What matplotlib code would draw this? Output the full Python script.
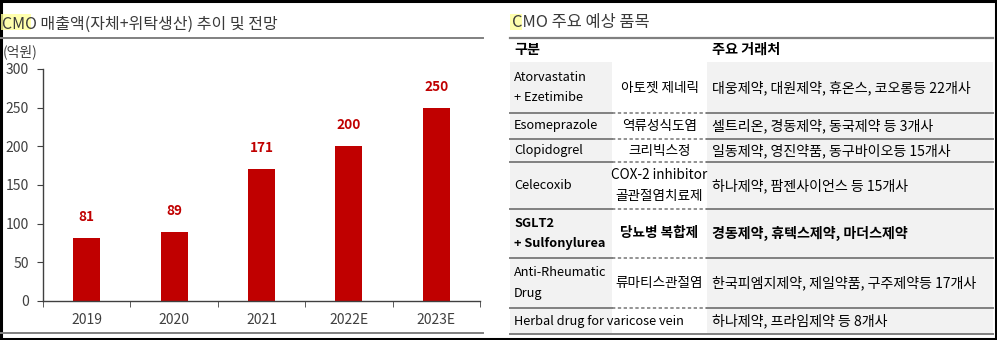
import matplotlib
matplotlib.use('Agg')
import matplotlib.pyplot as plt
from matplotlib.patches import Rectangle

plt.rcParams['font.family'] = ['Noto Sans CJK KR', 'DejaVu Sans']

# chart data
years = ['2019', '2020', '2021', '2022E', '2023E']
sales = [81, 89, 171, 200, 250]
yticks = [0, 50, 100, 150, 200, 250, 300]

# table data
header = ['구분', '주요 거래처']
drugs = ['Atorvastatin\n+ Ezetimibe', 'Esomeprazole', 'Clopidogrel', 'Celecoxib',
         'SGLT2\n+ Sulfonylurea', 'Anti-Rheumatic\nDrug', 'Herbal drug for varicose vein']
indications = ['아토젯 제네릭', '역류성식도염', '크리빅스정', 'COX-2 inhibitor\n골관절염치료제',
               '당뇨병 복합제', '류마티스관절염', '']
clients = ['대웅제약, 대원제약, 휴온스, 코오롱등 22개사',
           '셀트리온, 경동제약, 동국제약 등 3개사',
           '일동제약, 영진약품, 동구바이오등 15개사',
           '하나제약, 팜젠사이언스 등 15개사',
           '경동제약, 휴텍스제약, 마더스제약',
           '한국피엠지제약, 제일약품, 구주제약등 17개사',
           '하나제약, 프라임제약 등 8개사']
bold_rows = [4]

W, H = 997, 340
red = '#c00000'
grey_txt = '#404040'
fill = '#f2f2f2'
line_c = '#808080'

fig = plt.figure(figsize=(W / 100, H / 100), dpi=100)

# background canvas in pixel coordinates
bg = fig.add_axes([0, 0, 1, 1], zorder=0)
bg.set_xlim(0, W)
bg.set_ylim(H, 0)
bg.axis('off')

# outer frame
bg.add_patch(Rectangle((0.5, 0.5), W - 2, H - 2, fill=False, ec='black', lw=2.2))

# ---- left panel ----
bg.add_patch(Rectangle((1, 14), 30, 16, color='#ffff99', lw=0, alpha=0.8))
bg.text(2, 24, 'CMO 매출액(자체+위탁생산) 추이 및 전망', fontsize=11.5, fontweight='medium',
        color='#3a3a3a', va='center', ha='left')
bg.plot([0, 483], [38, 38], color=line_c, lw=1.4)
bg.plot([0, 483], [333, 333], color=line_c, lw=1.4)
bg.text(3, 52, '(억원)', fontsize=10, color=grey_txt, va='center', ha='left')

ax = fig.add_axes([43 / W, 1 - 301 / H, (480 - 43) / W, (301 - 69) / H], zorder=2)
ax.patch.set_alpha(0)
x = list(range(len(years)))
bars = ax.bar(x, sales, width=0.31, color=red)
for b, v in zip(bars, sales):
    ax.annotate(str(v), (b.get_x() + b.get_width() / 2, v), xytext=(0, 10),
                textcoords='offset points', ha='center', va='bottom',
                fontsize=9.8, fontweight='bold', color=red)
ax.set_xlim(-0.5, len(years) - 0.5)
ax.set_ylim(0, 300)
ax.set_yticks(yticks)
ax.set_xticks(x)
ax.set_xticklabels(years)
ax.set_xticks([i - 0.5 for i in range(len(years) + 1)], minor=True)
ax.tick_params(axis='x', which='major', length=0, pad=9, labelsize=10, labelcolor=grey_txt)
ax.tick_params(axis='x', which='minor', length=4, color=grey_txt, direction='out')
ax.tick_params(axis='y', length=4, color=grey_txt, labelsize=10, labelcolor=grey_txt, pad=6)
for s in ['top', 'right']:
    ax.spines[s].set_visible(False)
for s in ['left', 'bottom']:
    ax.spines[s].set_color(grey_txt)
    ax.spines[s].set_linewidth(1)

# ---- right panel (table) ----
tx0, c1, c2, tx1 = 510, 612, 707, 993
bg.add_patch(Rectangle((510, 14), 12, 16, color='#ffff99', lw=0, alpha=0.8))
bg.text(512, 22, 'CMO 주요 예상 품목', fontsize=11.8, fontweight='medium', color='#3a3a3a',
        va='center', ha='left')
bg.plot([tx0, tx1], [38, 38], color=line_c, lw=1.6)
bg.text(514, 50, header[0], fontsize=10.2, fontweight='bold', color='black', va='center')
bg.text(712, 50, header[1], fontsize=10.2, fontweight='bold', color='black', va='center')

edges = [62, 113, 139, 162, 209, 258, 308, 334]
fs = 10.1
fs_latin = 9.2
for i in range(len(drugs)):
    y0, y1 = edges[i], edges[i + 1]
    yc = (y0 + y1) / 2
    bg.add_patch(Rectangle((tx0, y0), c1 - tx0, y1 - y0, color=fill, lw=0))
    bg.add_patch(Rectangle((c2, y0), tx1 - c2, y1 - y0, color=fill, lw=0))
    fw = 'bold' if i in bold_rows else 'normal'
    bg.text(514, yc, drugs[i], fontsize=fs_latin, fontweight=fw, color='black',
            va='center', ha='left', linespacing=1.75)
    if indications[i]:
        bg.text((c1 + c2) / 2, yc, indications[i], fontsize=9.8, fontweight=fw,
                color='black', va='center', ha='center', linespacing=1.65)
    bg.text(712, yc, clients[i], fontsize=fs, fontweight=fw, color='black',
            va='center', ha='left')
    if i > 0:
        bg.plot([tx0, c1], [y0, y0], color=line_c, lw=1.4)
        bg.plot([c1, c2], [y0, y0], color=line_c, lw=1.2, ls=(0, (2, 1.5)))
        bg.plot([c2, tx1], [y0, y0], color=line_c, lw=1.4)
bg.plot([tx0, tx1], [edges[-1], edges[-1]], color=line_c, lw=1.4)

fig.savefig('out.png', dpi=100)
